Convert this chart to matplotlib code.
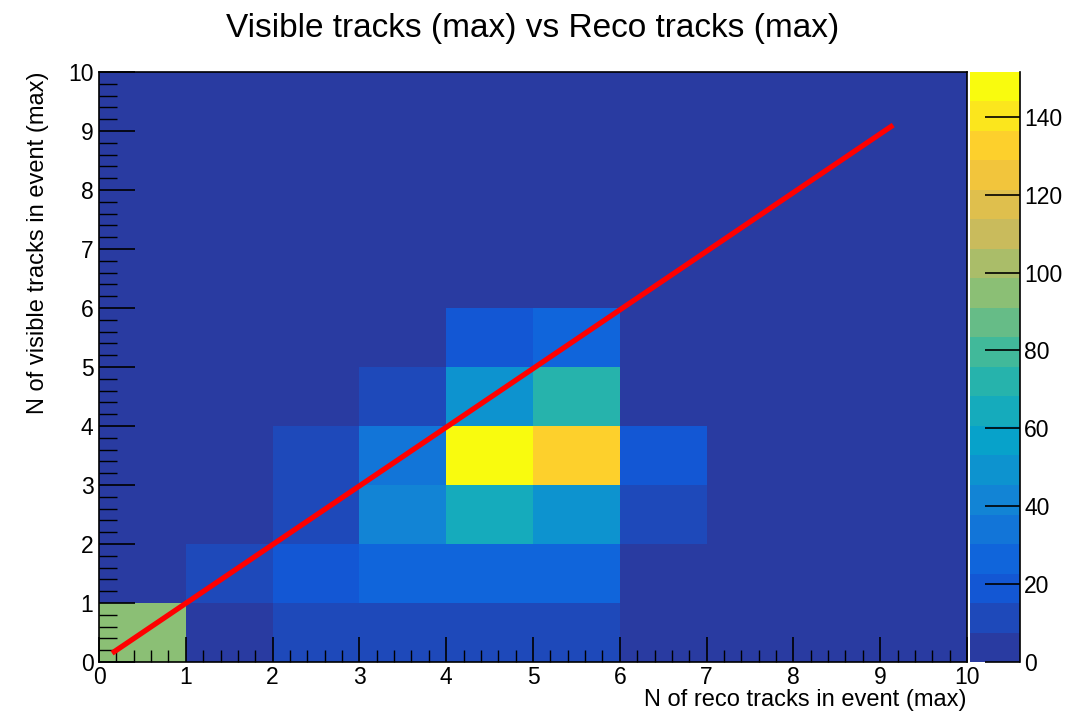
import numpy as np
import matplotlib
matplotlib.use('Agg')
import matplotlib.pyplot as plt
from matplotlib.colors import LinearSegmentedColormap, BoundaryNorm

plt.rcParams['font.family'] = ['Liberation Sans', 'DejaVu Sans']

# bin edges and counts (rows = visible tracks 0..9, cols = reco tracks 0..9)
x_edges = np.arange(0, 11)
y_edges = np.arange(0, 11)
counts = [
    [98, 3, 12, 12, 12, 12, 0, 0, 0, 0],
    [0, 13, 20, 26, 26, 26, 0, 0, 0, 0],
    [0, 0, 12, 40, 68, 52, 12, 0, 0, 0],
    [0, 0, 15, 36, 151, 132, 20, 0, 0, 0],
    [0, 0, 0, 13, 48, 70, 0, 0, 0, 0],
    [0, 0, 0, 0, 20, 25, 0, 0, 0, 0],
    [0, 0, 0, 0, 0, 0, 0, 0, 0, 0],
    [0, 0, 0, 0, 0, 0, 0, 0, 0, 0],
    [0, 0, 0, 0, 0, 0, 0, 0, 0, 0],
    [0, 0, 0, 0, 0, 0, 0, 0, 0, 0],
]
z_max = 151.5
n_levels = 20

# diagonal reference line
line_x = [0.15, 9.15]
line_y = [0.15, 9.1]

# ROOT kBird-like palette
bird = [
    (0.16, 0.23, 0.63),
    (0.0592, 0.3599, 0.8684),
    (0.0780, 0.5041, 0.8385),
    (0.0232, 0.6419, 0.7914),
    (0.1802, 0.7178, 0.6425),
    (0.5301, 0.7492, 0.4662),
    (0.8186, 0.7328, 0.3499),
    (0.9956, 0.7862, 0.1968),
    (0.9764, 0.9832, 0.0539),
]
cmap = LinearSegmentedColormap.from_list('bird', bird, N=n_levels)
levels = np.linspace(0, z_max, n_levels + 1)
norm = BoundaryNorm(levels, cmap.N)

fig = plt.figure(figsize=(10.92, 7.17), dpi=100)
ax = fig.add_axes([0.0907, 0.0767, 0.7948, 0.8229])
cax = fig.add_axes([0.888, 0.0767, 0.046, 0.8229])

mesh = ax.pcolormesh(x_edges, y_edges, np.array(counts), cmap=cmap, norm=norm)
ax.plot(line_x, line_y, color='#ff0000', lw=3.8, solid_capstyle='butt')

ax.set_xlim(0, 10)
ax.set_ylim(0, 10)
ax.set_xticks(range(0, 11))
ax.set_yticks(range(0, 11))
ax.set_xticks(np.arange(0, 10.01, 0.2), minor=True)
ax.set_yticks(np.arange(0, 10.01, 0.2), minor=True)
ax.tick_params(axis='x', which='major', direction='in', length=18, width=1.2,
               labelsize=16.5, pad=3)
ax.tick_params(axis='x', which='minor', direction='in', length=9, width=1)
ax.tick_params(axis='y', which='major', direction='in', length=26, width=1.2,
               labelsize=16.5, pad=4)
ax.tick_params(axis='y', which='minor', direction='in', length=13, width=1)
for s in ax.spines.values():
    s.set_linewidth(1.2)

ax.set_xlabel('N of reco tracks in event (max)', fontsize=17, loc='right', labelpad=0)
ax.set_ylabel('N of visible tracks in event (max)', fontsize=17, loc='top', labelpad=14)
fig.suptitle('Visible tracks (max) vs Reco tracks (max)', fontsize=24, x=0.488, y=0.982)

cb = fig.colorbar(mesh, cax=cax, ticks=range(0, 141, 20), drawedges=False)
cb.outline.set_visible(False)
cax.spines['right'].set_visible(True)
cax.spines['right'].set_linewidth(1.2)
cax.yaxis.set_ticks_position('right')
cax.tick_params(axis='y', direction='in', length=25, width=1.2, labelsize=16.5, pad=3)
cax.minorticks_off()

fig.savefig('out.png', dpi=100)
